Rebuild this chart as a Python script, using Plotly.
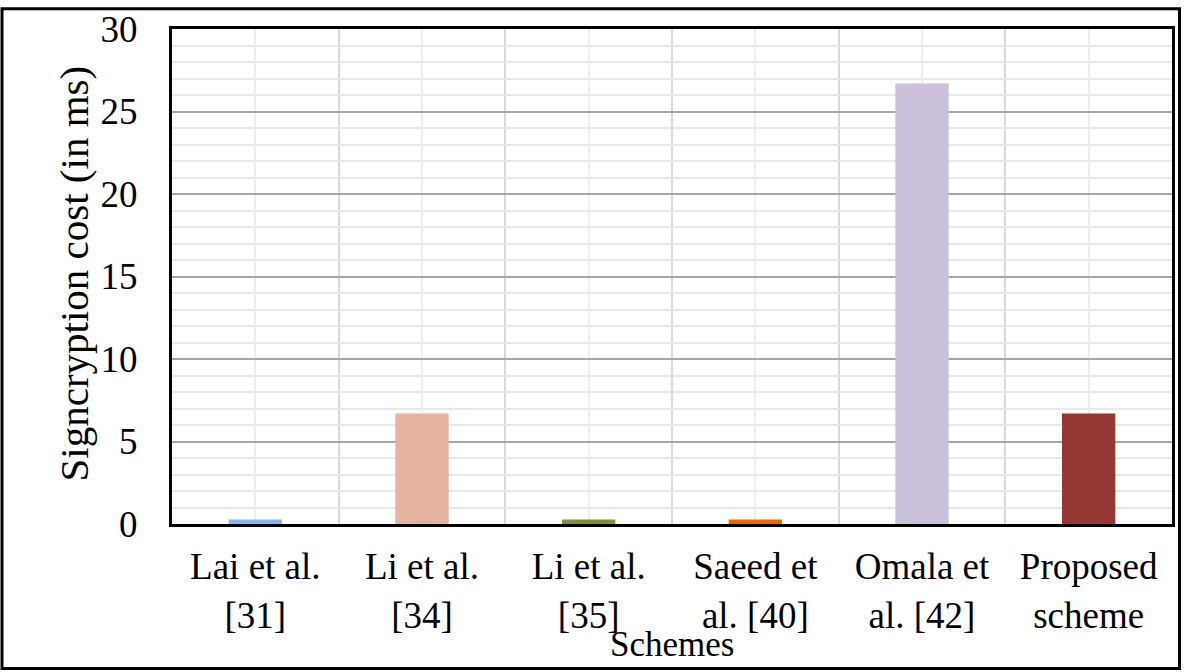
import plotly.graph_objects as go

# Chart data
schemes = [
    "Lai et al.<br>[31]",
    "Li et al.<br>[34]",
    "Li et al.<br>[35]",
    "Saeed et<br>al. [40]",
    "Omala et<br>al. [42]",
    "Proposed<br>scheme",
]
cost_ms = [0.27, 6.7, 0.27, 0.27, 26.7, 6.7]
bar_colors = ["#8db4e2", "#e6b2a1", "#77933c", "#e46c0a", "#ccc1da", "#953735"]
y_ticks = [0, 5, 10, 15, 20, 25, 30]

W, H = 1184, 672
M = dict(l=172, r=9, t=22, b=148)
FONT = "Liberation Serif, Times New Roman, serif"

positions = list(range(len(schemes)))

fig = go.Figure()

fig.add_trace(
    go.Bar(
        x=positions,
        y=cost_ms,
        width=0.32,
        marker=dict(color=bar_colors, line=dict(width=0)),
        showlegend=False,
    )
)

fig.update_xaxes(
    range=[-0.5, len(schemes) - 0.5],
    tickmode="array",
    tickvals=positions,
    ticktext=schemes,
    ticks="",
    ticklabelstandoff=8,
    tickfont=dict(family=FONT, size=37, color="black"),
    showgrid=True,
    gridcolor="#eeeeee",
    gridwidth=2,
    minor=dict(tick0=0.5, dtick=1, showgrid=True, gridcolor="#d9d9d9", gridwidth=2),
    showline=True,
    mirror=True,
    linecolor="black",
    linewidth=3,
    zeroline=False,
    fixedrange=True,
)

fig.update_yaxes(
    range=[0, 30],
    tickmode="array",
    tickvals=y_ticks,
    ticks="",
    ticklabelstandoff=24,
    tickfont=dict(family=FONT, size=37, color="black"),
    showgrid=True,
    gridcolor="#a6a6a6",
    gridwidth=2,
    minor=dict(dtick=1, showgrid=True, gridcolor="#e8e8e8", gridwidth=2),
    showline=True,
    mirror=True,
    linecolor="black",
    linewidth=3,
    zeroline=False,
    fixedrange=True,
)

# axis titles
fig.add_annotation(
    text="Schemes",
    x=0.5, y=0, xref="paper", yref="paper",
    xanchor="center", yanchor="middle", yshift=-120,
    showarrow=False,
    font=dict(family=FONT, size=35, color="black"),
)
fig.add_annotation(
    text="Signcryption cost (in ms)",
    x=0, y=0.5, xref="paper", yref="paper",
    xanchor="center", yanchor="middle", xshift=-99, yshift=3,
    textangle=-90,
    showarrow=False,
    font=dict(family=FONT, size=41, color="black"),
)

# outer frame around the whole image
pw = W - M["l"] - M["r"]
ph = H - M["t"] - M["b"]
fig.add_shape(
    type="rect",
    xref="paper", yref="paper",
    x0=-(M["l"] - 1.5) / pw, x1=1 + (M["r"] - 1.5) / pw,
    y0=-(M["b"] - 1.5) / ph, y1=1 + (M["t"] - 1.5) / ph,
    line=dict(color="black", width=3),
    layer="above",
)

fig.update_layout(
    width=W,
    height=H,
    margin=M,
    paper_bgcolor="white",
    plot_bgcolor="white",
    bargap=0.68,
    font=dict(family=FONT, color="black"),
)

fig.write_html(
    "out.html",
    config={"displayModeBar": False},
    post_script="document.body.style.margin='0';document.body.style.overflow='hidden';",
)
